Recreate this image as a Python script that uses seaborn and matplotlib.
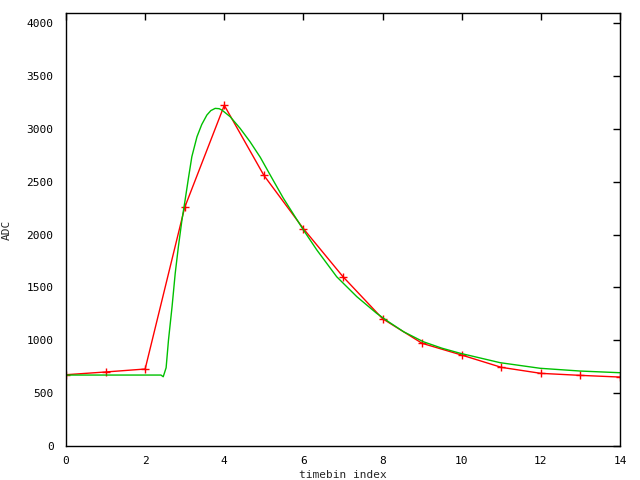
import pandas as pd
import seaborn as sns
import matplotlib
matplotlib.use("Agg")
import matplotlib.pyplot as plt

# measured ADC samples per timebin
timebin = [0, 1, 2, 3, 4, 5, 6, 7, 8, 9, 10, 11, 12, 13, 14]
adc = [674, 700, 728, 2257, 3222, 2560, 2055, 1601, 1204, 971, 860, 744, 687, 668, 652]

# fitted pulse shape
fit_x = [0.0, 2.40, 2.457, 2.53, 2.59, 2.68, 2.76, 2.84, 2.93, 3.01, 3.10, 3.18,
         3.31, 3.43, 3.56, 3.66, 3.77, 3.87, 3.94, 4.15, 4.40, 4.65, 4.91, 5.16,
         5.49, 6.0, 6.34, 6.84, 7.35, 7.85, 8.15, 8.53, 9.03, 9.50, 9.96,
         10.97, 11.98, 12.99, 14.0]
fit_y = [671, 671, 655, 740, 1002, 1317, 1633, 1885, 2137, 2326, 2547, 2736,
         2925, 3040, 3130, 3172, 3193, 3190, 3177, 3114, 3004, 2878, 2730, 2563,
         2345, 2043, 1853, 1601, 1412, 1255, 1175, 1081, 986, 925, 877,
         788, 735, 709, 693]

data = pd.DataFrame({'timebin': timebin, 'adc': adc})
fit = pd.DataFrame({'timebin': fit_x, 'adc': fit_y})

sns.set_style("white")
plt.rcParams['font.family'] = ['DejaVu Sans Mono']

fig = plt.figure(figsize=(6.4, 4.8), dpi=100)
ax = fig.add_axes([66 / 640, 34 / 480, 554 / 640, 433 / 480])

sns.lineplot(data=data, x='timebin', y='adc', ax=ax, color='#ff0000', lw=1,
             marker='+', markersize=6, markeredgewidth=1,
             markeredgecolor='#ff0000', sort=False)
sns.lineplot(data=fit, x='timebin', y='adc', ax=ax, color='#00c000', lw=1, sort=False)

ax.set_xlim(0, 14)
ax.set_ylim(0, 4095)
ax.set_xticks(range(0, 15, 2))
ax.set_yticks(range(0, 4001, 500))
ax.tick_params(direction='in', length=5, width=1, top=True, right=True,
               labelsize=8, color='black', labelcolor='black')
ax.tick_params(axis='y', pad=9)
ax.tick_params(axis='x', pad=7)
for s in ax.spines.values():
    s.set_color('black')
    s.set_linewidth(1)

ax.set_xlabel('timebin index', fontsize=8, labelpad=3)
ax.set_ylabel('ADC', fontsize=8)
ax.yaxis.set_label_coords(-0.098, 0.5)

plt.savefig('out.png', dpi=100)
